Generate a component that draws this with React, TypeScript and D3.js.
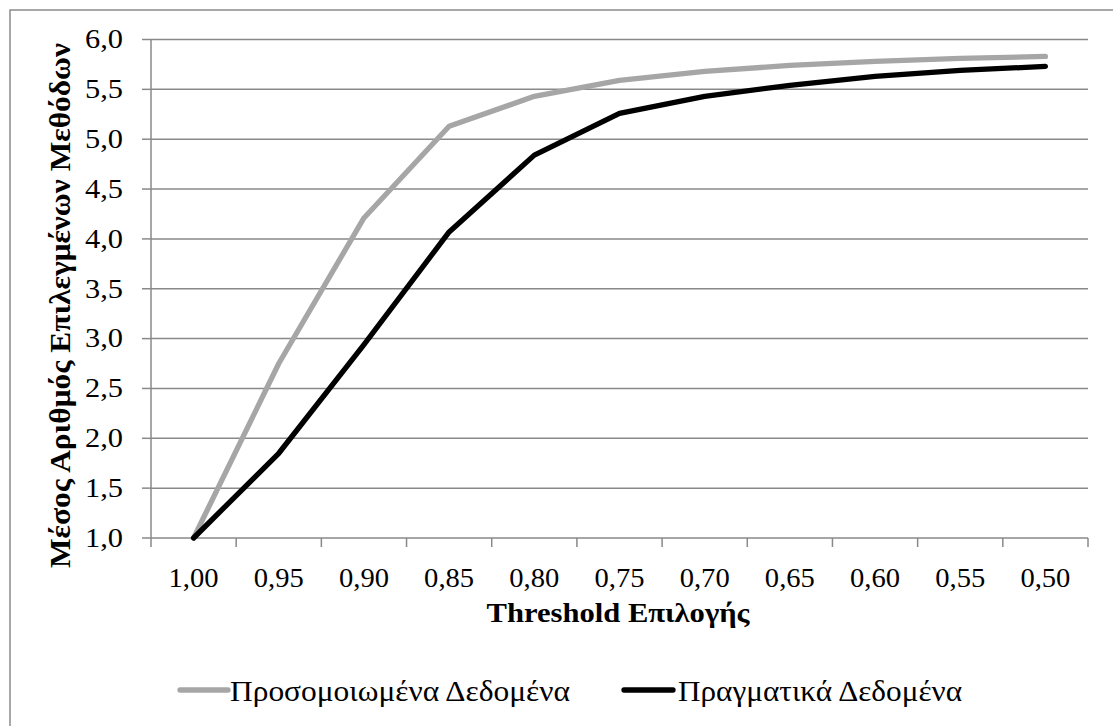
import React from 'react';
import * as d3 from 'd3';

const categories = ['1,00', '0,95', '0,90', '0,85', '0,80', '0,75', '0,70', '0,65', '0,60', '0,55', '0,50'];
const simulated = [1.0, 2.75, 4.21, 5.13, 5.43, 5.59, 5.68, 5.74, 5.78, 5.81, 5.83];
const real = [1.0, 1.85, 2.94, 4.07, 4.84, 5.26, 5.43, 5.54, 5.63, 5.69, 5.73];
const yTicks = [1.0, 1.5, 2.0, 2.5, 3.0, 3.5, 4.0, 4.5, 5.0, 5.5, 6.0];

const seriesNames = ['Προσομοιωμένα Δεδομένα', 'Πραγματικά Δεδομένα'];
const xTitle = 'Threshold Επιλογής';
const yTitle = 'Μέσος Αριθμός Επιλεγμένων Μεθόδων';

const W = 1113;
const H = 726;
const left = 151;
const right = 1088;
const top = 39.5;
const bottom = 538;

const gridColor = '#898989';
const serif = "'Liberation Serif', 'DejaVu Serif', serif";

const fmt = (v: number) => v.toFixed(1).replace('.', ',');

export default function App() {
  const x = d3.scaleBand<string>().domain(categories).range([left, right]);
  const y = d3.scaleLinear().domain([1, 6]).range([bottom, top]);
  const cx = (c: string) => (x(c) ?? 0) + x.bandwidth() / 2;

  const line = d3
    .line<number>()
    .x((_, i) => cx(categories[i]))
    .y((d) => y(d));

  const boundaries = categories.map((c) => x(c) ?? 0).concat([right]);

  return (
    <svg width={W} height={H} style={{ position: 'absolute', left: 0, top: 0, background: '#fff' }}>
      <rect x={10} y={10} width={1200} height={800} fill="#fff" stroke="#8c8c8c" strokeWidth={1.5} />

      {/* gridlines + y ticks */}
      {yTicks.map((t) => (
        <g key={t}>
          {t > 1 && <line x1={left} x2={right} y1={y(t)} y2={y(t)} stroke={gridColor} strokeWidth={1.5} />}
          <line x1={142} x2={left} y1={y(t)} y2={y(t)} stroke={gridColor} strokeWidth={1.5} />
          <text x={123} y={y(t) + 8.8} textAnchor="end" fontFamily={serif} fontSize={26.5} fill="#000"
            textLength={38} lengthAdjust="spacingAndGlyphs">
            {fmt(t)}
          </text>
        </g>
      ))}

      {/* axes */}
      <line x1={left} x2={left} y1={top} y2={bottom} stroke={gridColor} strokeWidth={1.5} />
      <line x1={left} x2={right} y1={bottom} y2={bottom} stroke={gridColor} strokeWidth={1.5} />
      {boundaries.map((b, i) => (
        <line key={i} x1={b} x2={b} y1={bottom} y2={547} stroke={gridColor} strokeWidth={1.5} />
      ))}
      {categories.map((c) => (
        <text key={c} x={cx(c)} y={586.5} textAnchor="middle" fontFamily={serif} fontSize={26.5} fill="#000"
          textLength={50} lengthAdjust="spacingAndGlyphs">
          {c}
        </text>
      ))}

      {/* series */}
      <path d={line(simulated) ?? ''} fill="none" stroke="#a6a6a6" strokeWidth={5.3} strokeLinecap="round" strokeLinejoin="round" />
      <path d={line(real) ?? ''} fill="none" stroke="#000" strokeWidth={5.3} strokeLinecap="round" strokeLinejoin="round" />

      {/* axis titles */}
      <text x={618} y={621.5} textAnchor="middle" fontFamily={serif} fontWeight="bold" fontSize={28}
        textLength={263} lengthAdjust="spacingAndGlyphs">
        {xTitle}
      </text>
      <text transform="translate(70,305.5) rotate(-90)" textAnchor="middle" fontFamily={serif} fontWeight="bold"
        fontSize={29} textLength={525} lengthAdjust="spacingAndGlyphs">
        {yTitle}
      </text>

      {/* legend */}
      <line x1={180} x2={228} y1={690} y2={690} stroke="#a6a6a6" strokeWidth={5.3} strokeLinecap="round" />
      <text x={230} y={701} fontFamily={serif} fontSize={28.5} textLength={340} lengthAdjust="spacingAndGlyphs">
        {seriesNames[0]}
      </text>
      <line x1={624} x2={673} y1={690} y2={690} stroke="#000" strokeWidth={5.3} strokeLinecap="round" />
      <text x={678} y={701} fontFamily={serif} fontSize={28.5} textLength={284} lengthAdjust="spacingAndGlyphs">
        {seriesNames[1]}
      </text>
    </svg>
  );
}
